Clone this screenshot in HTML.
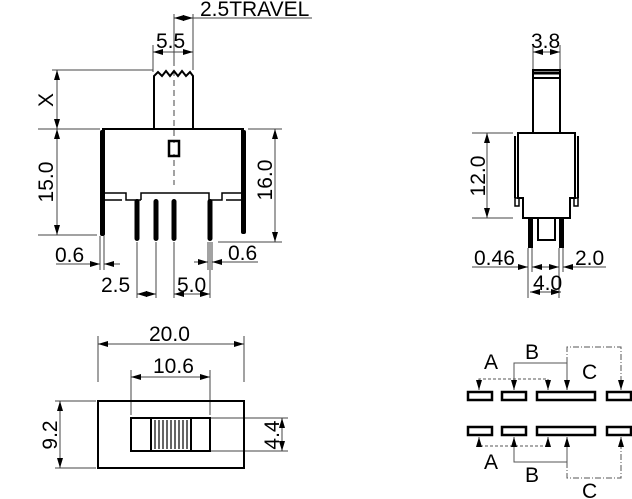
<!DOCTYPE html>
<html><head><meta charset="utf-8"><style>
html,body{margin:0;padding:0;background:#fff}
svg{display:block}
text{font-family:"Liberation Sans",sans-serif;font-size:21px;fill:#000}
</style></head><body>
<svg width="632" height="499" viewBox="0 0 632 499" xmlns="http://www.w3.org/2000/svg">
<defs>
<marker id="a" viewBox="0 0 10 6" refX="10" refY="3" markerWidth="10" markerHeight="6" markerUnits="userSpaceOnUse" orient="auto-start-reverse"><path d="M0,0L10,3L0,6z" fill="#000"/></marker>
</defs>
<g stroke="#444" stroke-width="1" fill="none">
<line x1="174" y1="18" x2="312" y2="18"/>
<line x1="174" y1="14" x2="174" y2="60"/>
<line x1="193" y1="14" x2="193" y2="70"/>
<line x1="174" y1="18" x2="193" y2="18" marker-start="url(#a)" marker-end="url(#a)"/>
<line x1="153" y1="45" x2="153" y2="72"/>
<line x1="153" y1="52" x2="193" y2="52" marker-start="url(#a)" marker-end="url(#a)"/>
<line x1="174" y1="60" x2="174" y2="185" stroke-dasharray="6,4"/>
<line x1="52" y1="70" x2="153" y2="70"/>
<line x1="38" y1="129" x2="100" y2="129"/>
<line x1="57" y1="70" x2="57" y2="129" marker-start="url(#a)" marker-end="url(#a)"/>
<line x1="38" y1="235" x2="97" y2="235"/>
<line x1="57" y1="129" x2="57" y2="235" marker-start="url(#a)" marker-end="url(#a)"/>
<line x1="248" y1="129" x2="282" y2="129"/>
<line x1="218" y1="242" x2="282" y2="242"/>
<line x1="275" y1="129" x2="275" y2="242" marker-start="url(#a)" marker-end="url(#a)"/>
<line x1="100" y1="236" x2="100" y2="270"/><line x1="104" y1="236" x2="104" y2="270"/>
<line x1="56" y1="264" x2="100" y2="264" marker-end="url(#a)"/>
<line x1="120" y1="264" x2="104" y2="264" marker-end="url(#a)"/>
<line x1="137" y1="242" x2="137" y2="298"/><line x1="156" y1="242" x2="156" y2="298"/>
<line x1="174" y1="242" x2="174" y2="298"/><line x1="210" y1="242" x2="210" y2="298"/>
<line x1="208" y1="242" x2="208" y2="270"/><line x1="212" y1="242" x2="212" y2="270"/>
<line x1="137" y1="294" x2="156" y2="294" marker-start="url(#a)" marker-end="url(#a)"/>
<line x1="174" y1="294" x2="210" y2="294" marker-start="url(#a)" marker-end="url(#a)"/>
<line x1="194" y1="262" x2="208" y2="262" marker-end="url(#a)"/>
<line x1="258" y1="262" x2="212" y2="262" marker-end="url(#a)"/>
<line x1="533" y1="45" x2="533" y2="70"/><line x1="560" y1="45" x2="560" y2="70"/>
<line x1="533" y1="52" x2="560" y2="52" marker-start="url(#a)" marker-end="url(#a)"/>
<line x1="472" y1="133" x2="513" y2="133"/>
<line x1="472" y1="218" x2="513" y2="218"/>
<line x1="487" y1="133" x2="487" y2="218" marker-start="url(#a)" marker-end="url(#a)"/>
<line x1="528" y1="248" x2="528" y2="298"/><line x1="532" y1="248" x2="532" y2="272"/>
<line x1="559" y1="248" x2="559" y2="298"/><line x1="563" y1="248" x2="563" y2="272"/>
<line x1="472" y1="267" x2="528" y2="267" marker-end="url(#a)"/>
<line x1="546" y1="267" x2="532" y2="267" marker-end="url(#a)"/>
<line x1="545" y1="267" x2="559" y2="267" marker-end="url(#a)"/>
<line x1="606" y1="267" x2="563" y2="267" marker-end="url(#a)"/>
<line x1="530" y1="292" x2="561" y2="292" marker-start="url(#a)" marker-end="url(#a)"/>
<line x1="98" y1="336" x2="98" y2="382"/><line x1="244" y1="336" x2="244" y2="382"/>
<line x1="98" y1="344" x2="244" y2="344" marker-start="url(#a)" marker-end="url(#a)"/>
<line x1="131" y1="370" x2="131" y2="415"/><line x1="210" y1="370" x2="210" y2="415"/>
<line x1="131" y1="377" x2="210" y2="377" marker-start="url(#a)" marker-end="url(#a)"/>
<line x1="55" y1="401" x2="96" y2="401"/><line x1="55" y1="468" x2="96" y2="468"/>
<line x1="60" y1="401" x2="60" y2="468" marker-start="url(#a)" marker-end="url(#a)"/>
<line x1="210" y1="418" x2="288" y2="418"/><line x1="210" y1="451" x2="288" y2="451"/>
<line x1="282" y1="418" x2="282" y2="451" marker-start="url(#a)" marker-end="url(#a)"/>
</g>
<g stroke="#000" stroke-width="2" fill="none">
<path d="M154,128 L154,76 L158,72 L162,76 L166,71 L170,76 L174,71 L178,76 L182,71 L186,76 L190,72 L193,76 L193,128"/>
<path d="M102,129 L244,129"/>
<path d="M104,130 L104,193 M242,130 L242,193"/>
<path d="M104,193 L126,193 L126,200 L132,200 M104,200 L122,200" stroke-width="1.5"/>
<path d="M141,200 L141,193 L209,193 L209,200 M132,200 L141,200 M209,200 L222,200 L222,193 L242,193 M226,200 L242,200" stroke-width="1.5"/>
<rect x="169" y="141" width="10" height="15" stroke-width="2.5"/>
</g>
<g fill="#000">
<rect x="100" y="130" width="5" height="106" rx="2"/>
<rect x="241" y="130" width="5" height="104" rx="2"/>
<rect x="134.5" y="199" width="5" height="42" rx="2.5"/>
<rect x="153.5" y="199" width="5" height="42" rx="2.5"/>
<rect x="171.5" y="199" width="5" height="42" rx="2.5"/>
<rect x="207.5" y="199" width="5" height="42" rx="2.5"/>
</g>
<rect x="171" y="143" width="6" height="11" fill="#fff" rx="2"/>
<g stroke="#000" stroke-width="2" fill="none">
<rect x="533" y="70" width="27" height="63"/>
<line x1="533" y1="73" x2="560" y2="73" stroke-width="3"/>
<line x1="533" y1="78" x2="560" y2="78"/>
<path d="M518,133 L575,133 L575,198 L570,198 L570,218 L523,218 L523,198 L518,198 Z"/>
<path d="M515,136 L515,198 M578,136 L578,198"/>
<rect x="515" y="198" width="4" height="8" stroke-width="1.5"/>
<rect x="574" y="198" width="4" height="8" stroke-width="1.5"/>
<path d="M538,218 L538,240 L555,240 L555,218"/>
</g>
<g fill="#000"><rect x="528" y="218" width="5" height="30"/><rect x="559" y="218" width="5" height="30"/></g>
<g stroke="#000" stroke-width="2" fill="none">
<rect x="98" y="401" width="146" height="67"/>
<rect x="131" y="418" width="79" height="33"/>
<rect x="151" y="418" width="40" height="33"/>
</g>
<g stroke="#000" stroke-width="1.2">
<line x1="155" y1="420" x2="155" y2="449"/><line x1="159" y1="420" x2="159" y2="449"/><line x1="163" y1="420" x2="163" y2="449"/><line x1="167" y1="420" x2="167" y2="449"/><line x1="171" y1="420" x2="171" y2="449"/><line x1="175" y1="420" x2="175" y2="449"/><line x1="179" y1="420" x2="179" y2="449"/><line x1="183" y1="420" x2="183" y2="449"/><line x1="187" y1="420" x2="187" y2="449"/>
</g>
<g stroke="#000" stroke-width="2.5" fill="none">
<rect x="468" y="392" width="24" height="8"/><rect x="502" y="392" width="24" height="8"/><rect x="537" y="392" width="58" height="8"/><rect x="607" y="392" width="24" height="8"/>
<rect x="468" y="427" width="24" height="8"/><rect x="502" y="427" width="24" height="8"/><rect x="537" y="427" width="58" height="8"/><rect x="607" y="427" width="24" height="8"/>
</g>
<g stroke="#555" stroke-width="1" fill="none">
<path d="M479,390 L479,379 L548,379 L548,390" stroke-dasharray="3,2" marker-start="url(#a)" marker-end="url(#a)"/>
<path d="M514,390 L514,363 L567,363 L567,390" marker-start="url(#a)" marker-end="url(#a)"/>
<path d="M567,363 L567,347 L621,347 L621,390" stroke-dasharray="6,2,1,2" marker-end="url(#a)"/>
<path d="M479,437 L479,446 L548,446 L548,437" stroke-dasharray="3,2" marker-start="url(#a)" marker-end="url(#a)"/>
<path d="M514,437 L514,462 L567,462 L567,437" marker-start="url(#a)" marker-end="url(#a)"/>
<path d="M567,462 L567,478 L621,478 L621,437" stroke-dasharray="6,2,1,2" marker-end="url(#a)"/>
</g>
<text x="200" y="16">2.5TRAVEL</text>
<text x="156" y="48">5.5</text>
<text transform="translate(53,100) rotate(-90)" text-anchor="middle">X</text>
<text transform="translate(53,182) rotate(-90)" text-anchor="middle">15.0</text>
<text transform="translate(272,180) rotate(-90)" text-anchor="middle">16.0</text>
<text x="55" y="262">0.6</text>
<text x="228" y="260">0.6</text>
<text x="101" y="292">2.5</text>
<text x="177" y="292">5.0</text>
<text x="531" y="48">3.8</text>
<text transform="translate(485,176) rotate(-90)" text-anchor="middle">12.0</text>
<text x="474" y="265">0.46</text>
<text x="575" y="265">2.0</text>
<text x="533" y="290">4.0</text>
<text x="149" y="341">20.0</text>
<text x="153" y="373">10.6</text>
<text transform="translate(57,435) rotate(-90)" text-anchor="middle">9.2</text>
<text transform="translate(279,435) rotate(-90)" text-anchor="middle">4.4</text>
<text x="484" y="369">A</text>
<text x="525" y="359">B</text>
<text x="582" y="379">C</text>
<text x="484" y="469">A</text>
<text x="525" y="482">B</text>
<text x="582" y="498">C</text>
</svg>
</body></html>
